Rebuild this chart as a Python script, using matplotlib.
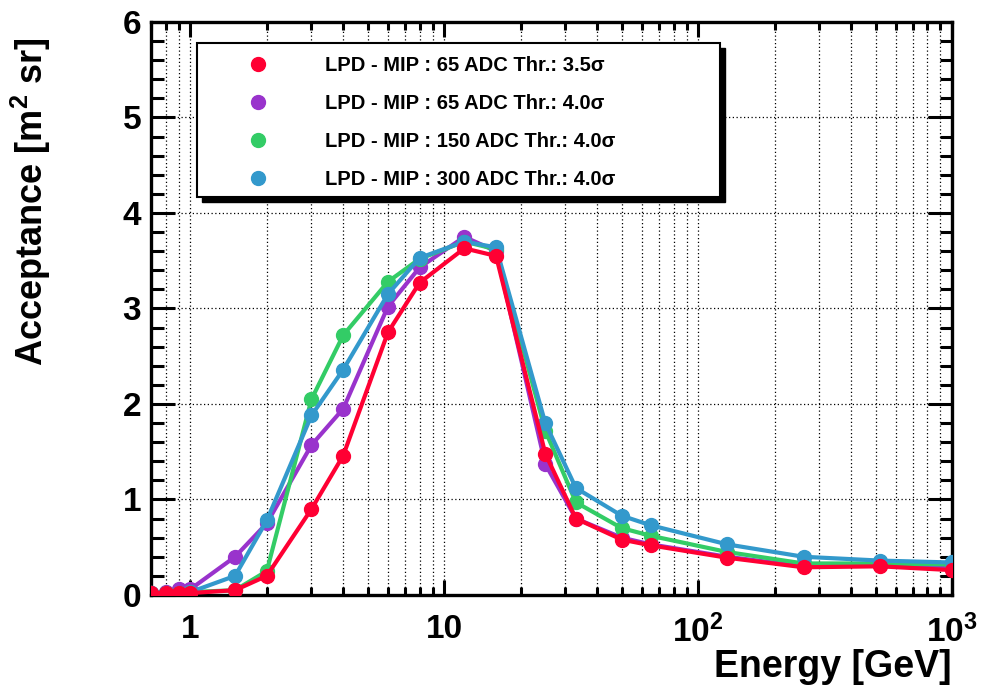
import matplotlib
matplotlib.use("Agg")
import matplotlib.pyplot as plt
from matplotlib.ticker import FixedLocator, MultipleLocator, NullFormatter
from matplotlib.patches import Rectangle

plt.rcParams['font.family'] = ['Liberation Sans', 'DejaVu Sans']
plt.rcParams['font.weight'] = 'bold'
plt.rcParams['mathtext.fontset'] = 'custom'
plt.rcParams['mathtext.rm'] = 'Liberation Sans:bold'
plt.rcParams['mathtext.default'] = 'rm'

# energy bins [GeV]
energy = [0.7, 0.8, 0.9, 1.0, 1.5, 2, 3, 4, 6, 8, 12, 16, 25, 33, 50, 65, 130, 260, 520, 1000]

# acceptance [m^2 sr]
acc_65_35 = [0.02, 0.02, 0.02, 0.02, 0.05, 0.2, 0.9, 1.46, 2.75, 3.27, 3.63, 3.55, 1.48, 0.8, 0.58, 0.52, 0.39, 0.29, 0.3, 0.26]
acc_65_40 = [0.02, 0.03, 0.06, 0.06, 0.4, 0.75, 1.57, 1.95, 3.02, 3.43, 3.75, 3.6, 1.37, 0.8, 0.6, 0.53, 0.4, 0.3, 0.31, 0.28]
acc_150_40 = [0.02, 0.02, 0.02, 0.03, 0.05, 0.25, 2.05, 2.72, 3.28, 3.52, 3.7, 3.62, 1.72, 0.97, 0.7, 0.62, 0.45, 0.33, 0.33, 0.32]
acc_300_40 = [0.02, 0.02, 0.02, 0.03, 0.2, 0.78, 1.88, 2.36, 3.15, 3.53, 3.7, 3.64, 1.8, 1.12, 0.83, 0.73, 0.53, 0.4, 0.36, 0.34]

labels = [r"LPD - MIP : 65 ADC Thr.: 3.5σ",
          r"LPD - MIP : 65 ADC Thr.: 4.0σ",
          r"LPD - MIP : 150 ADC Thr.: 4.0σ",
          r"LPD - MIP : 300 ADC Thr.: 4.0σ"]
colors = ['#ff0033', '#9933cc', '#33cc66', '#3399cc']
zorders = [6, 3, 4, 5]

fig = plt.figure(figsize=(9.82, 6.94), dpi=100)
ax = fig.add_axes([0.1538, 0.1427, 0.8157, 0.8256])

series = [acc_65_35, acc_65_40, acc_150_40, acc_300_40]
handles = []
for y, lab, c, z in zip(series, labels, colors, zorders):
    h, = ax.plot(energy, y, '-o', color=c, lw=3, ms=10, mec=c, label=lab, zorder=z)
    handles.append(h)

ax.set_xscale('log')
ax.set_xlim(0.7, 1000)
ax.set_ylim(0, 6)

minor = [m * 10.0 ** e for e in range(-1, 3) for m in range(2, 10)]
ax.xaxis.set_major_locator(FixedLocator([1, 10, 100, 1000]))
ax.xaxis.set_minor_locator(FixedLocator(minor))
ax.xaxis.set_minor_formatter(NullFormatter())
ax.set_xticklabels(['1', '10', r'$10^{2}$', r'$10^{3}$'])
ax.yaxis.set_major_locator(MultipleLocator(1))
ax.yaxis.set_minor_locator(MultipleLocator(0.2))

ax.grid(True, which='major', axis='y', color='black', lw=0.9, linestyle=(0, (1, 2)))
ax.grid(True, which='both', axis='x', color='black', lw=0.9, linestyle=(0, (1, 2)))
ax.set_axisbelow(True)

for s in ax.spines.values():
    s.set_linewidth(2.4)
ax.tick_params(axis='both', which='both', direction='in', top=True, right=True, width=2.2)
ax.tick_params(axis='x', which='major', length=11, pad=14, labelsize=24)
ax.tick_params(axis='x', which='minor', length=6)
ax.tick_params(axis='y', which='major', length=17, pad=7, labelsize=24)
ax.tick_params(axis='y', which='minor', length=9)

ax.set_ylabel(r"Acceptance [m$^{2}$ sr]", fontsize=26, fontweight='bold')
ax.yaxis.set_label_coords(-0.122, 0.686)
ax.set_xlabel("Energy [GeV]", fontsize=27, fontweight='bold', loc='right')
ax.xaxis.set_label_coords(1.0, -0.095)

# legend box with ROOT-like shadow
ax.add_patch(Rectangle((0.0634, 0.6863), 0.6529, 0.2679, transform=ax.transAxes,
                       facecolor='black', edgecolor='black', zorder=9, clip_on=False))
ax.add_patch(Rectangle((0.0574, 0.695), 0.6529, 0.2679, transform=ax.transAxes,
                       facecolor='white', edgecolor='black', lw=1.5, zorder=10, clip_on=False))
leg = ax.legend(handles=handles, loc='upper left', bbox_to_anchor=(0.121, 0.941),
                frameon=False, borderpad=0, borderaxespad=0, handlelength=1.0,
                handletextpad=2.85, labelspacing=0.95, numpoints=1,
                prop={'size': 14.5, 'weight': 'bold'})
leg.set_zorder(11)
for lh in leg.get_lines():
    lh.set_linestyle('none')

fig.savefig("out.png", dpi=100)
